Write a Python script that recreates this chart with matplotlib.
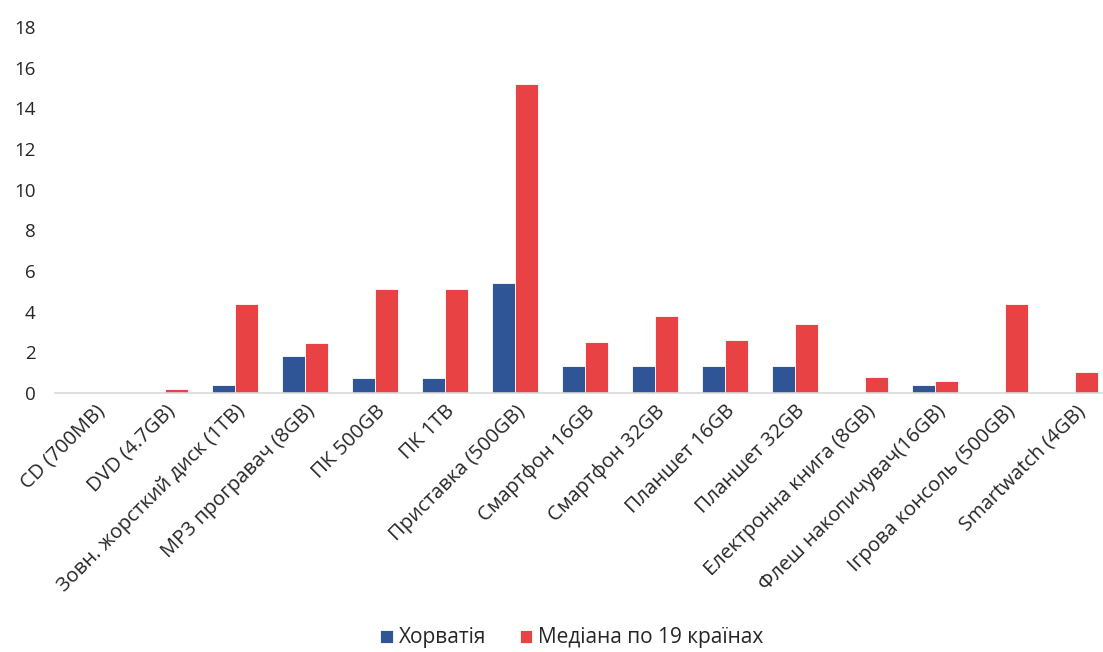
import matplotlib
matplotlib.use("Agg")
import matplotlib.pyplot as plt
import numpy as np

categories = [
    "CD (700MB)", "DVD (4.7GB)", "Зовн. жорсткий диск (1TB)",
    "MP3 програвач (8GB)", "ПК 500GB", "ПК 1TB", "Приставка (500GB)",
    "Смартфон 16GB", "Смартфон 32GB", "Планшет 16GB", "Планшет 32GB",
    "Електронна книга (8GB)", "Флеш накопичувач(16GB)",
    "Ігрова консоль (500GB)", "Smartwatch (4GB)",
]
croatia = [0, 0, 0.4, 1.8, 0.75, 0.75, 5.4, 1.35, 1.35, 1.35, 1.35, 0, 0.4, 0, 0]
median19 = [0, 0.2, 4.4, 2.45, 5.1, 5.1, 15.2, 2.5, 3.8, 2.6, 3.4, 0.8, 0.6, 4.4, 1.05]
yticks = [0, 2, 4, 6, 8, 10, 12, 14, 16, 18]

plt.rcParams['font.family'] = ['Open Sans', 'DejaVu Sans']
text_color = '#262626'

fig = plt.figure(figsize=(11.03, 6.52), dpi=100)
ax = fig.add_axes([55 / 1103, 1 - 393 / 652, 1 - 55 / 1103, 366 / 652])

x = np.arange(len(categories))
w = 0.33
ax.bar(x - w / 2, croatia, w, color='#2F5597', edgecolor='white', linewidth=0.6,
       label='Хорватія')
ax.bar(x + w / 2, median19, w, color='#E84245', edgecolor='white', linewidth=0.6,
       label='Медіана по 19 країнах')

ax.set_xlim(-0.57, 14.4)
ax.set_ylim(0, 18)
ax.set_yticks(yticks)
ax.set_yticklabels([str(t) for t in yticks], fontsize=13.5, color=text_color)
ax.set_xticks(x)
ax.set_xticklabels(categories, rotation=45, ha='right', rotation_mode='anchor',
                   fontsize=14.5, color=text_color)
ax.tick_params(axis='both', length=0)
ax.tick_params(axis='y', pad=14)
ax.tick_params(axis='x', pad=6)

for s in ['top', 'right', 'left']:
    ax.spines[s].set_visible(False)
ax.spines['bottom'].set_color('#D9D9D9')
ax.spines['bottom'].set_linewidth(1.2)

fig.legend(loc='center', bbox_to_anchor=(572 / 1103, 1 - 638 / 652), ncol=2,
           frameon=False, fontsize=15, handlelength=0.6, handleheight=0.6,
           handletextpad=0.3, columnspacing=1.6, labelcolor=text_color)

fig.savefig('out.png', dpi=100)
